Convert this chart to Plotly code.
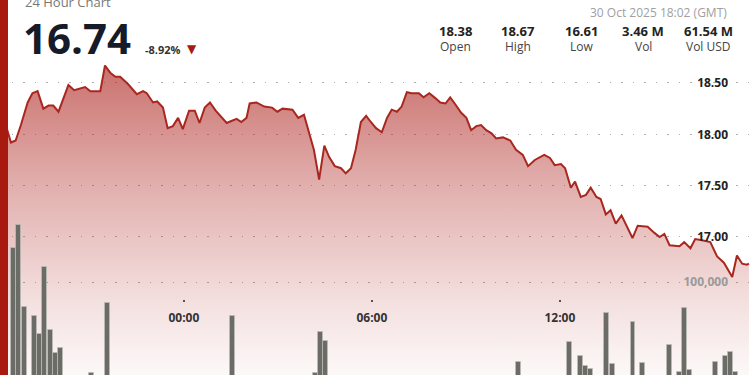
import plotly.graph_objects as go

# ---- price series (24h, 30 Oct 2025) ----
price_time = [
    "2025-10-29 18:02", "2025-10-29 18:29", "2025-10-29 18:38", "2025-10-29 18:48", "2025-10-29 19:01",
    "2025-10-29 19:10", "2025-10-29 19:20", "2025-10-29 19:31", "2025-10-29 19:41", "2025-10-29 19:50",
    "2025-10-29 20:00", "2025-10-29 20:10", "2025-10-29 20:19", "2025-10-29 20:30", "2025-10-29 20:42",
    "2025-10-29 20:51", "2025-10-29 21:01", "2025-10-29 21:20", "2025-10-29 21:29", "2025-10-29 21:39",
    "2025-10-29 21:49", "2025-10-29 21:58", "2025-10-29 22:13", "2025-10-29 22:30", "2025-10-29 22:42",
    "2025-10-29 22:49", "2025-10-29 23:01", "2025-10-29 23:09", "2025-10-29 23:20", "2025-10-29 23:29",
    "2025-10-29 23:39", "2025-10-29 23:49", "2025-10-29 23:58", "2025-10-30 00:10", "2025-10-30 00:21",
    "2025-10-30 00:30", "2025-10-30 00:40", "2025-10-30 00:50", "2025-10-30 01:01", "2025-10-30 01:12",
    "2025-10-30 01:22", "2025-10-30 01:31", "2025-10-30 01:41", "2025-10-30 01:50", "2025-10-30 02:00",
    "2025-10-30 02:06", "2025-10-30 02:19", "2025-10-30 02:34", "2025-10-30 02:49", "2025-10-30 02:59",
    "2025-10-30 03:09", "2025-10-30 03:28", "2025-10-30 03:39", "2025-10-30 03:50", "2025-10-30 04:00",
    "2025-10-30 04:09", "2025-10-30 04:19", "2025-10-30 04:29", "2025-10-30 04:38", "2025-10-30 04:49",
    "2025-10-30 05:01", "2025-10-30 05:10", "2025-10-30 05:20", "2025-10-30 05:29", "2025-10-30 05:39",
    "2025-10-30 05:49", "2025-10-30 05:58", "2025-10-30 06:08", "2025-10-30 06:19", "2025-10-30 06:29",
    "2025-10-30 06:38", "2025-10-30 06:48", "2025-10-30 06:57", "2025-10-30 07:07", "2025-10-30 07:16",
    "2025-10-30 07:30", "2025-10-30 07:39", "2025-10-30 07:50", "2025-10-30 08:02", "2025-10-30 08:11",
    "2025-10-30 08:21", "2025-10-30 08:30", "2025-10-30 08:40", "2025-10-30 08:51", "2025-10-30 09:01",
    "2025-10-30 09:10", "2025-10-30 09:20", "2025-10-30 09:29", "2025-10-30 09:39", "2025-10-30 09:49",
    "2025-10-30 09:58", "2025-10-30 10:11", "2025-10-30 10:25", "2025-10-30 10:36", "2025-10-30 10:49",
    "2025-10-30 10:59", "2025-10-30 11:12", "2025-10-30 11:30", "2025-10-30 11:41", "2025-10-30 11:50",
    "2025-10-30 12:02", "2025-10-30 12:10", "2025-10-30 12:21", "2025-10-30 12:29", "2025-10-30 12:40",
    "2025-10-30 12:50", "2025-10-30 12:59", "2025-10-30 13:10", "2025-10-30 13:18", "2025-10-30 13:28",
    "2025-10-30 13:37", "2025-10-30 13:47", "2025-10-30 13:58", "2025-10-30 14:09", "2025-10-30 14:19",
    "2025-10-30 14:29", "2025-10-30 14:48", "2025-10-30 15:01", "2025-10-30 15:11", "2025-10-30 15:20",
    "2025-10-30 15:30", "2025-10-30 15:49", "2025-10-30 15:58", "2025-10-30 16:10", "2025-10-30 16:19",
    "2025-10-30 16:30", "2025-10-30 16:48", "2025-10-30 17:01", "2025-10-30 17:14", "2025-10-30 17:30",
    "2025-10-30 17:39", "2025-10-30 17:49", "2025-10-30 17:58", "2025-10-30 18:02",
]
price = [
    18.38, 17.92, 17.94, 18.09, 18.31,
    18.40, 18.42, 18.25, 18.28, 18.28,
    18.22, 18.36, 18.48, 18.43, 18.45,
    18.46, 18.42, 18.42, 18.67, 18.60,
    18.56, 18.56, 18.49, 18.39, 18.42,
    18.40, 18.31, 18.32, 18.26, 18.06,
    18.08, 18.16, 18.05, 18.23, 18.23,
    18.11, 18.26, 18.31, 18.23, 18.17,
    18.11, 18.13, 18.15, 18.12, 18.16,
    18.30, 18.31, 18.27, 18.26, 18.22,
    18.25, 18.24, 18.16, 18.19, 18.02,
    17.85, 17.56, 17.89, 17.78, 17.69,
    17.67, 17.62, 17.67, 17.85, 18.12,
    18.18, 18.12, 18.06, 18.02, 18.16,
    18.24, 18.22, 18.27, 18.41, 18.40,
    18.40, 18.36, 18.40, 18.35, 18.31,
    18.30, 18.36, 18.29, 18.21, 18.16,
    18.04, 18.08, 18.09, 18.04, 18.01,
    17.96, 17.97, 17.94, 17.85, 17.80,
    17.69, 17.75, 17.80, 17.77, 17.70,
    17.71, 17.67, 17.48, 17.54, 17.39,
    17.41, 17.48, 17.39, 17.37, 17.22,
    17.26, 17.13, 17.21, 17.10, 16.99,
    17.11, 17.10, 17.04, 17.00, 17.03,
    16.92, 16.91, 16.95, 16.89, 16.98,
    16.97, 16.95, 16.81, 16.75, 16.61,
    16.82, 16.74, 16.73, 16.74,
]

# ---- volume series ----
vol_time = [
    "2025-10-29 18:34", "2025-10-29 18:44", "2025-10-29 18:54", "2025-10-29 19:14", "2025-10-29 19:24",
    "2025-10-29 19:34", "2025-10-29 19:44", "2025-10-29 19:54", "2025-10-29 20:04", "2025-10-29 21:03",
    "2025-10-29 21:33", "2025-10-30 01:33", "2025-10-30 04:12", "2025-10-30 04:21", "2025-10-30 04:31",
    "2025-10-30 10:41", "2025-10-30 12:19", "2025-10-30 12:39", "2025-10-30 12:49", "2025-10-30 12:58",
    "2025-10-30 13:29", "2025-10-30 13:40", "2025-10-30 14:20", "2025-10-30 14:39", "2025-10-30 15:29",
    "2025-10-30 15:49", "2025-10-30 15:58", "2025-10-30 16:08", "2025-10-30 16:58", "2025-10-30 17:18",
    "2025-10-30 17:27", "2025-10-30 17:37",
]
volume = [
    133000, 155000, 76000, 67000, 50000,
    115000, 53000, 31000, 36000, 12000,
    80000, 67000, 12000, 51000, 43000,
    22000, 42000, 28000, 18000, 16000,
    70000, 20000, 61000, 21000, 39000,
    13000, 75000, 15000, 22000, 28000,
    32000, 13000,
]

# ---- header texts ----
title_text = "24 Hour Chart"
last_price = "16.74"
change_pct = "-8.92%"
timestamp = "30 Oct 2025 18:02 (GMT)"
stat_values = ["18.38", "18.67", "16.61", "3.46 M", "61.54 M"]
stat_labels = ["Open", "High", "Low", "Vol", "Vol USD"]

price_ticks = [17.0, 17.5, 18.0, 18.5]
vol_ticks = [100000]

W, H = 750, 375
FONT = "Open Sans"

fig = go.Figure()

fig.add_trace(go.Scatter(
    x=price_time, y=price, mode="lines",
    line=dict(color="#a8271f", width=2),
    fill="tozeroy",
    fillgradient=dict(
        type="vertical", start=15.66, stop=18.67,
        colorscale=[
            [0.0, "rgba(175,40,35,0.03)"],
            [0.246, "rgba(175,40,35,0.15)"],
            [0.611, "rgba(175,40,35,0.37)"],
            [1.0, "rgba(175,40,35,0.66)"],
        ],
    ),
    hoverinfo="skip", yaxis="y",
))

fig.add_trace(go.Bar(
    x=vol_time, y=volume, yaxis="y2",
    width=570000,
    marker=dict(color="#6c6c67", line=dict(color="rgba(190,190,185,0.7)", width=1)),
    hoverinfo="skip",
))

grid = dict(showgrid=True, gridcolor="rgba(110,110,110,0.55)", gridwidth=1, griddash="1.5px,10px")

fig.update_layout(
    width=W, height=H,
    margin=dict(l=0, r=0, t=0, b=0),
    paper_bgcolor="white", plot_bgcolor="white",
    showlegend=False, hovermode=False, bargap=0,
    xaxis=dict(
        type="date", domain=[0, 1],
        range=["2025-10-29 18:08", "2025-10-30 18:04"],
        tick0="2025-10-30 00:00", dtick=6 * 3600 * 1000,
        tickformat="%H:%M",
        anchor="free", position=(H - 299) / H,
        showgrid=False, zeroline=False, showline=False,
        ticks="outside", ticklen=2, tickwidth=2, tickcolor="#555",
        ticklabelstandoff=6,
        tickfont=dict(family=FONT, size=12, color="#333", weight="bold"),
    ),
    yaxis=dict(
        domain=[0, 1], range=[15.656, 19.308],
        side="right", ticklabelposition="inside", ticklabelstandoff=19,
        tickvals=price_ticks, tickformat=".2f",
        tickfont=dict(family=FONT, size=12, color="#222", weight="bold"),
        zeroline=False, showline=False, ticks="", **grid,
    ),
    yaxis2=dict(
        overlaying="y", range=[9709, 373786],
        side="right", ticklabelposition="inside", ticklabelstandoff=19,
        tickvals=vol_ticks, tickformat=",d",
        tickfont=dict(family=FONT, size=12, color="#9a9a9a", weight="bold"),
        zeroline=False, showline=False, ticks="", **grid,
    ),
)

# left red accent bar
fig.add_shape(type="rect", xref="paper", yref="paper", x0=0, x1=8 / W, y0=0, y1=1,
              fillcolor="#a8190f", line=dict(width=0), layer="above")

def px(x, y):
    return x / W, 1 - y / H

ann = []
x, y = px(23, 2)
ann.append(dict(x=x, y=y, text=title_text, xanchor="left", yanchor="middle",
                font=dict(family=FONT, size=13, color="#777")))
x, y = px(21, 38)
ann.append(dict(x=x, y=y, text=last_price, xanchor="left", yanchor="middle",
                font=dict(family=FONT, size=42, color="#151b28", weight="bold")))
x, y = px(143, 49)
ann.append(dict(x=x, y=y, text=change_pct, xanchor="left", yanchor="middle",
                font=dict(family=FONT, size=11, color="#333", weight="bold")))
x, y = px(191.5, 49)
ann.append(dict(x=x, y=y, text="▼", xanchor="center", yanchor="middle",
                font=dict(family="DejaVu Sans", size=12, color="#a8190f")))
x, y = px(729, 13)
ann.append(dict(x=x, y=y, text=timestamp, xanchor="right", yanchor="middle",
                font=dict(family=FONT, size=12, color="#a0a0a0")))
for cx, v, l in zip([455, 518, 581, 643, 708], stat_values, stat_labels):
    x, y = px(cx, 31)
    ann.append(dict(x=x, y=y, text=v, xanchor="center", yanchor="middle",
                    font=dict(family=FONT, size=13, color="#222", weight="bold")))
    x, y = px(cx, 46.5)
    ann.append(dict(x=x, y=y, text=l, xanchor="center", yanchor="middle",
                    font=dict(family=FONT, size=12, color="#444")))
for a in ann:
    a.update(xref="paper", yref="paper", showarrow=False)
fig.update_layout(annotations=ann)

fig.write_html("out.html")
